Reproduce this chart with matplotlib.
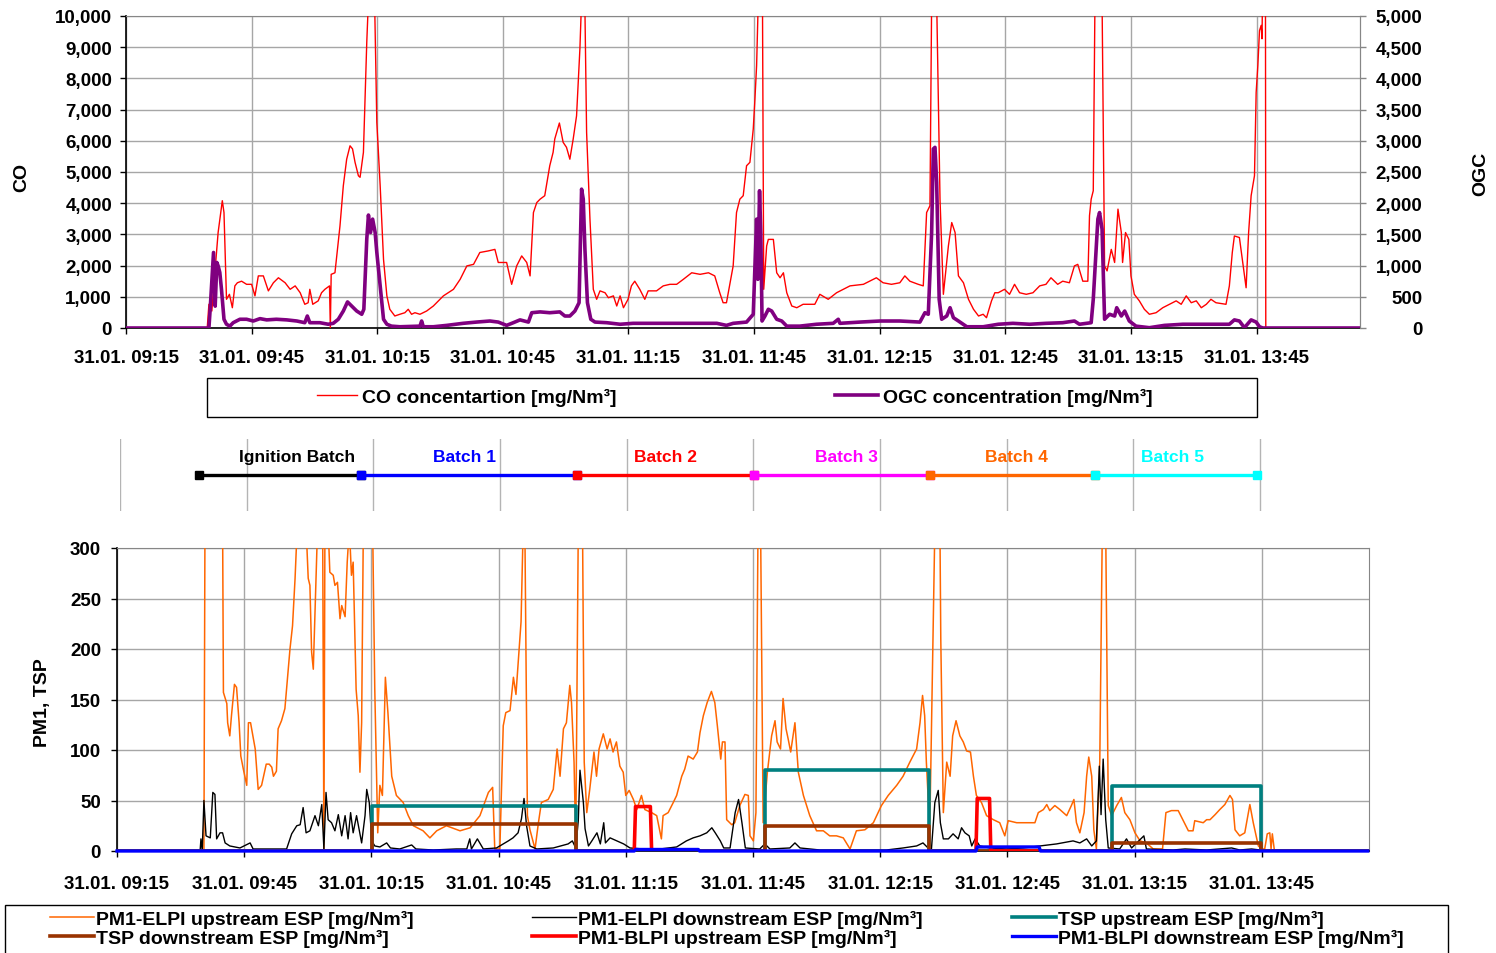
import numpy as np
import matplotlib
matplotlib.use("Agg")
import matplotlib.pyplot as plt
from matplotlib.lines import Line2D
from matplotlib.patches import Rectangle

plt.rcParams['font.family'] = ['Liberation Sans', 'DejaVu Sans']
plt.rcParams['font.weight'] = 'bold'

W, H = 1496, 954

# ---------------- data (time in minutes after 31.01. 09:15) ----------------
tick_minutes = [0, 30, 60, 90, 120, 150, 180, 210, 240, 270]
tick_labels = ['31.01. 09:15', '31.01. 09:45', '31.01. 10:15', '31.01. 10:45',
               '31.01. 11:15', '31.01. 11:45', '31.01. 12:15', '31.01. 12:45',
               '31.01. 13:15', '31.01. 13:45']

co_t = [0, 19.4, 19.8, 20.5, 20.9, 22.0, 23.0, 23.4, 24.0, 24.7,
        25.4, 26.0, 26.6, 27.6, 28.8, 30.0, 30.8, 31.6, 32.8, 34.0,
        35.2, 36.4, 38.0, 39.2, 40.4, 41.6, 42.7, 43.5, 43.9, 44.6,
        45.9, 46.7, 47.5, 48.6, 48.8, 49.0, 49.9, 51.1, 51.9, 52.7,
        53.5, 54.1, 54.7, 55.5, 55.9, 56.7, 57.1, 57.5, 57.9, 58.5,
        59.3, 59.9, 60.7, 61.5, 62.3, 63.0, 64.2, 65.4, 66.6, 67.4,
        68.2, 69.0, 70.2, 71.8, 73.4, 75.8, 78.2, 79.8, 81.4, 83.0,
        84.5, 86.5, 88.1, 88.9, 90.9, 92.1, 93.3, 94.5, 95.7, 96.5,
        97.3, 98.1, 98.9, 100.0, 101.2, 102.0, 102.4, 103.5, 104.4, 105.2,
        106.0, 106.8, 107.6, 108.4, 108.8, 109.2, 109.6, 110.0, 110.8, 111.6,
        112.4, 113.2, 114.4, 115.2, 116.4, 117.2, 118.0, 118.8, 119.9, 120.7,
        121.5, 122.7, 123.9, 124.7, 126.7, 128.3, 129.9, 131.5, 133.1, 135.1,
        137.1, 139.1, 140.6, 141.8, 142.6, 143.4, 144.2, 145.0, 145.8, 146.6,
        147.4, 148.2, 149.0, 149.8, 150.2, 150.6, 151.0, 151.5, 152.0, 152.3,
        153.0, 153.4, 154.6, 155.4, 156.2, 157.0, 157.8, 159.0, 160.2, 161.7,
        163.3, 164.5, 165.7, 167.7, 169.7, 172.9, 176.1, 179.2, 180.8, 182.8,
        184.8, 186.0, 187.2, 189.2, 190.4, 191.2, 192.0, 192.4, 192.8, 193.6,
        194.4, 195.2, 196.4, 197.2, 198.0, 198.8, 200.0, 201.2, 202.4, 203.6,
        204.7, 205.5, 206.7, 207.5, 208.3, 209.8, 211.0, 212.2, 213.4, 215.0,
        216.6, 218.2, 219.7, 220.9, 222.5, 223.7, 225.3, 226.5, 227.3, 228.5,
        229.7, 230.1, 230.5, 231.0, 231.4, 232.0, 233.1, 233.7, 234.3, 235.3,
        236.1, 236.9, 237.7, 238.0, 238.7, 239.5, 240.0, 240.8, 242.0, 243.2,
        244.4, 246.0, 247.6, 249.2, 250.8, 252.0, 253.2, 254.4, 255.6, 256.8,
        258.0, 259.1, 260.3, 262.7, 263.5, 264.2, 264.7, 265.9, 266.7, 267.5,
        268.1, 268.7, 269.5, 269.9, 270.3, 270.7, 271.1, 271.3, 271.7, 272.1,
        272.2, 295.0]
co_v = [0, 0, 760, 545, 1240, 3060, 4080, 3700, 920, 1080,
        650, 1350, 1450, 1500, 1400, 1400, 1030, 1670, 1670, 1190,
        1450, 1610, 1450, 1240, 1350, 1130, 760, 810, 1240, 760,
        870, 1130, 1240, 1350, 0, 1720, 1770, 3270, 4560, 5410,
        5840, 5740, 5310, 4880, 4830, 5630, 7340, 9160, 10500, 14000,
        11000, 6590, 4560, 2200, 1030, 600, 385, 440, 490, 600,
        440, 490, 440, 545, 705, 1030, 1240, 1560, 1990, 2040,
        2420, 2470, 2520, 2100, 2100, 1400, 1990, 2310, 2100, 1670,
        3700, 4020, 4130, 4240, 5200, 5630, 6060, 6570, 5950, 5790,
        5410, 6060, 6800, 8950, 10500, 13000, 10200, 6270, 3490, 1240,
        920, 1190, 1130, 970, 1030, 705, 1030, 650, 920, 1350,
        1500, 1240, 920, 1190, 1190, 1350, 1400, 1400, 1560, 1770,
        1720, 1770, 1670, 1130, 810, 810, 1400, 1990, 3700, 4130,
        4240, 5200, 5310, 6380, 7340, 8410, 10500, 14000, 10500, 1240,
        2630, 2840, 2840, 1770, 1610, 1770, 1130, 705, 650, 760,
        760, 760, 1080, 920, 1130, 1350, 1400, 1610, 1450, 1400,
        1450, 1670, 1500, 1400, 1350, 3700, 3920, 10500, 14000, 10500,
        4130, 1080, 2630, 3380, 3060, 1670, 1450, 920, 600, 385,
        440, 330, 870, 1130, 1130, 1240, 1080, 1400, 1130, 1080,
        1130, 1350, 1400, 1610, 1400, 1500, 1450, 1990, 2040, 1500,
        1500, 3600, 4130, 4400, 10500, 14000, 10500, 1990, 1830, 2520,
        2100, 3810, 3060, 2100, 3060, 2840, 1670, 1080, 870, 600,
        440, 490, 650, 760, 870, 760, 1030, 810, 870, 650,
        760, 920, 810, 760, 1350, 2420, 2950, 2900, 2100, 1290,
        3060, 4240, 4880, 7550, 8410, 9530, 9700, 9270, 14000, 14000,
        0, 0]

ogc_t = [0, 19.8, 20.1, 20.9, 21.3, 21.7, 22.0, 22.4, 22.8, 23.4,
         24.0, 24.8, 25.6, 27.2, 28.8, 30.4, 32.0, 33.6, 35.9, 38.4,
         40.8, 42.7, 43.3, 43.9, 46.3, 48.3, 49.5, 50.7, 51.9, 52.9,
         53.9, 55.1, 56.3, 56.8, 57.5, 57.9, 58.4, 58.9, 59.5, 59.9,
         60.7, 61.5, 62.3, 63.4, 65.4, 70.2, 70.6, 71.0, 73.4, 76.6,
         80.5, 83.7, 86.9, 88.9, 90.9, 92.5, 94.1, 96.1, 96.9, 98.9,
         101.2, 103.6, 104.8, 106.0, 107.2, 108.2, 108.8, 109.2, 109.6, 110.2,
         111.0, 112.0, 114.8, 118.0, 121.1, 125.1, 129.1, 133.1, 137.1, 141.1,
         143.4, 145.0, 148.2, 149.8, 150.6, 150.9, 151.3, 151.6, 151.9, 152.6,
         153.4, 154.2, 155.4, 156.6, 157.8, 160.9, 164.9, 168.9, 170.1, 170.5,
         175.3, 180.1, 184.8, 189.6, 190.8, 191.6, 192.4, 192.8, 193.2, 193.6,
         194.2, 194.8, 196.0, 196.8, 197.6, 198.8, 200.8, 204.7, 208.3, 211.8,
         215.8, 219.7, 223.7, 226.5, 227.7, 230.5, 231.0, 232.1, 232.5, 233.1,
         233.7, 234.9, 236.1, 236.6, 237.7, 238.5, 239.6, 241.2, 244.4, 248.0,
         252.4, 258.7, 263.5, 264.7, 265.9, 267.1, 268.7, 269.9, 270.7, 271.5,
         295.0]
ogc_v = [0, 0, 300, 1210, 350, 1050, 995, 890, 620, 140,
         60, 30, 85, 140, 140, 112, 150, 130, 140, 130,
         112, 85, 192, 85, 85, 60, 75, 140, 272, 418,
         352, 272, 220, 300, 1425, 1810, 1530, 1745, 1530, 1210,
         675, 140, 60, 30, 20, 30, 112, 20, 20, 42,
         75, 95, 112, 95, 42, 85, 130, 95, 245, 258,
         245, 258, 192, 192, 272, 405, 2225, 2065, 1260, 405,
         140, 95, 85, 60, 75, 75, 75, 75, 75, 75,
         42, 75, 95, 220, 1745, 780, 2200, 1530, 112, 192,
         300, 272, 140, 112, 30, 30, 60, 75, 140, 75,
         95, 112, 112, 95, 245, 220, 1530, 2870, 2895, 2335,
         460, 140, 192, 325, 165, 112, 20, 20, 60, 75,
         60, 75, 85, 112, 60, 85, 460, 1745, 1850, 1585,
         140, 220, 192, 325, 192, 272, 112, 30, 5, 42,
         60, 60, 60, 130, 112, 5, 130, 95, 20, 0,
         0]

elpi_up_t = [0, 20.5, 21.0, 23.0, 24.7, 25.1, 25.9, 26.1, 26.6, 27.0,
             27.7, 28.2, 28.8, 29.2, 29.8, 30.6, 31.0, 31.5, 32.6, 33.3,
             34.1, 35.2, 35.9, 36.5, 36.9, 37.6, 38.0, 38.8, 39.6, 40.2,
             40.8, 41.4, 42.0, 42.4, 43.5, 44.7, 45.1, 45.5, 45.9, 46.3,
             46.9, 47.3, 48.5, 48.8, 49.1, 50.2, 51.0, 51.4, 52.0, 52.6,
             53.0, 53.8, 54.3, 54.8, 55.3, 55.7, 56.4, 56.9, 57.3, 57.7,
             58.1, 59.2, 60.3, 60.8, 61.5, 62.0, 62.6, 63.3, 63.9, 64.8,
             65.9, 67.5, 68.7, 69.9, 72.2, 73.8, 75.4, 77.7, 80.9, 83.3,
             85.6, 87.6, 88.6, 89.1, 90.3, 91.1, 91.7, 92.7, 93.5, 94.1,
             94.9, 95.3, 95.8, 96.0, 96.2, 96.8, 97.4, 98.6, 99.4, 100.1,
             101.7, 102.9, 103.8, 104.5, 105.3, 106.0, 106.8, 107.2, 107.8, 108.2,
             108.8, 109.3, 109.8, 110.2, 110.8, 111.5, 112.5, 113.1, 113.7, 114.7,
             115.6, 116.3, 117.0, 117.8, 118.6, 119.4, 120.0, 120.8, 121.8, 122.6,
             123.7, 124.5, 126.1, 127.3, 128.4, 128.8, 130.0, 131.2, 132.0, 133.2,
             133.9, 134.7, 135.9, 136.9, 137.5, 138.3, 139.2, 140.2, 141.0, 141.6,
             142.4, 142.8, 143.4, 143.8, 145.0, 145.7, 146.9, 148.1, 148.9, 149.3,
             150.1, 150.7, 151.2, 151.5, 151.8, 152.4, 153.4, 154.4, 155.2, 155.7,
             156.5, 157.1, 157.8, 158.3, 158.9, 159.9, 160.7, 161.9, 163.4, 165.0,
             166.6, 168.1, 169.7, 171.3, 172.9, 174.4, 176.4, 178.4, 180.3, 181.9,
             183.9, 185.4, 187.0, 188.6, 189.4, 190.0, 190.5, 190.9, 191.7, 192.9,
             193.5, 194.1, 194.3, 194.9, 195.7, 196.5, 197.1, 197.9, 198.8, 199.6,
             200.4, 201.3, 202.0, 202.7, 203.9, 205.1, 206.7, 208.2, 209.4, 210.2,
             212.2, 214.5, 216.5, 217.3, 218.5, 219.3, 220.0, 221.2, 222.4, 224.0,
             225.1, 225.7, 226.3, 227.1, 228.1, 228.7, 229.2, 229.9, 230.4, 231.0,
             231.8, 232.4, 232.8, 233.2, 233.8, 234.6, 235.8, 236.9, 237.7, 238.9,
             240.1, 241.3, 242.8, 244.4, 246.6, 247.4, 248.7, 250.3, 251.5, 252.7,
             253.8, 254.2, 256.2, 257.0, 257.8, 259.0, 260.1, 261.3, 262.5, 263.1,
             263.7, 264.8, 266.0, 267.2, 268.0, 269.2, 270.0, 270.7, 271.3, 271.9,
             272.2, 272.5, 273.0, 295.0]
elpi_up_v = [0, 0, 650, 700, 500, 157, 146, 127, 114, 134,
             165, 162, 127, 94, 81, 65, 127, 127, 101, 61,
             65, 86, 86, 83, 74, 79, 121, 129, 141, 170,
             200, 223, 270, 310, 400, 310, 270, 263, 197, 180,
             266, 320, 330, 0, 400, 276, 273, 263, 266, 230,
             243, 232, 286, 320, 273, 286, 160, 134, 78, 127,
             320, 500, 320, 160, 18, 65, 55, 172, 137, 74,
             55, 48, 35, 25, 20, 13, 20, 25, 20, 23,
             35, 58, 63, 2, 2, 124, 137, 139, 172, 155,
             203, 227, 320, 450, 320, 35, 21, 2, 28, 48,
             51, 61, 101, 74, 121, 127, 164, 147, 88, 8,
             320, 500, 320, 88, 38, 61, 98, 74, 101, 116,
             101, 111, 98, 108, 84, 78, 55, 60, 51, 41,
             55, 41, 38, 35, 12, 35, 38, 48, 55, 74,
             81, 94, 91, 98, 117, 134, 147, 158, 147, 124,
             91, 108, 108, 31, 26, 28, 45, 56, 55, 15,
             10, 38, 320, 500, 320, 28, 78, 114, 129, 108,
             101, 151, 121, 111, 98, 127, 78, 55, 35, 20,
             20, 15, 15, 13, 2, 20, 21, 28, 45, 55,
             65, 74, 88, 101, 127, 154, 134, 88, 21, 320,
             500, 320, 210, 38, 88, 74, 114, 129, 114, 108,
             99, 98, 74, 55, 48, 35, 31, 28, 15, 30,
             28, 28, 28, 38, 41, 46, 40, 45, 41, 35,
             45, 51, 28, 18, 38, 74, 93, 74, 21, 2,
             88, 320, 500, 320, 45, 35, 45, 53, 38, 31,
             18, 10, 8, 2, 2, 38, 40, 40, 30, 20,
             20, 30, 28, 31, 31, 36, 41, 46, 55, 51,
             21, 15, 18, 46, 28, 5, 2, 2, 17, 18,
             2, 17, 0, 0]

elpi_down_t = [0, 19.6, 19.8, 20.1, 20.5, 21.0, 22.0, 22.6, 23.1, 23.5,
               24.3, 24.9, 25.5, 26.6, 29.0, 31.4, 32.1, 35.3, 40.0, 41.2,
               42.4, 43.2, 43.9, 44.6, 45.5, 46.7, 47.5, 48.3, 48.8, 49.3,
               49.8, 50.6, 51.4, 52.2, 53.0, 53.8, 54.5, 55.1, 55.7, 56.5,
               57.7, 58.5, 58.9, 59.5, 60.1, 60.8, 62.0, 63.6, 64.5, 66.7,
               69.5, 70.5, 74.6, 80.0, 82.5, 83.2, 83.6, 85.0, 86.4, 89.5,
               92.3, 93.4, 94.6, 95.4, 96.0, 96.6, 97.4, 99.0, 102.9, 106.4,
               107.4, 108.2, 108.8, 109.2, 110.0, 110.4, 111.2, 112.0, 113.2, 114.0,
               114.8, 115.2, 116.3, 117.9, 119.5, 121.0, 124.1, 128.1, 132.0, 134.3,
               135.9, 137.5, 139.1, 140.3, 141.1, 142.3, 143.1, 144.6, 145.8, 146.6,
               147.4, 148.2, 151.6, 152.8, 154.0, 158.7, 159.9, 161.1, 165.8, 173.6,
               181.5, 185.4, 188.6, 190.1, 191.3, 192.1, 192.9, 193.7, 194.2, 194.9,
               196.1, 197.2, 198.4, 199.2, 200.0, 201.0, 201.6, 202.4, 203.5, 205.9,
               209.8, 213.8, 217.7, 221.6, 225.5, 227.1, 228.7, 229.9, 231.0, 231.7,
               232.1, 232.6, 233.2, 233.8, 236.5, 238.1, 239.3, 242.2, 242.8, 249.1,
               251.9, 257.0, 262.9, 264.8, 267.6, 269.6, 270.3, 295.0]
elpi_down_v = [0, 0, 12, 0, 50, 15, 13, 58, 56, 12,
               18, 18, 8, 5, 3, 8, 2, 2, 2, 17,
               25, 26, 43, 18, 20, 35, 25, 46, 2, 58,
               31, 28, 20, 36, 15, 35, 12, 38, 18, 35,
               8, 35, 61, 48, 10, 5, 4, 8, 3, 2,
               6, 2, 1, 2, 2, 12, 2, 12, 2, 3,
               10, 13, 18, 32, 52, 25, 5, 2, 3, 7,
               10, 3, 30, 80, 48, 22, 5, 10, 18, 7,
               28, 8, 13, 10, 7, 3, 2, 2, 4, 10,
               13, 15, 18, 23, 18, 10, 3, 3, 38, 51,
               28, 3, 2, 7, 2, 3, 8, 3, 1, 1,
               1, 3, 5, 8, 3, 2, 48, 60, 28, 12,
               12, 17, 12, 23, 18, 15, 5, 12, 5, 3,
               2, 3, 5, 7, 10, 8, 12, 5, 10, 84,
               36, 91, 31, 3, 2, 12, 3, 15, 2, 1,
               2, 1, 3, 1, 2, 1, 0, 0]

tsp_start = [60.1, 152.8, 234.7]
tsp_end = [108.3, 191.5, 269.8]
tsp_up_vals = [45, 80, 64]
tsp_down_vals = [27, 25, 8]

blpi_up_t = [122.0, 122.3, 125.8, 126.1, 137.1, np.nan, 202.6, 202.9, 205.8, 206.1, 217.5]
blpi_up_v = [0, 44, 44, 0, 0, np.nan, 0, 52, 52, 0, 0]
blpi_down_t = [0, 122.0, 122.3, 137.1, 137.4, 202.6, 202.9, 217.5, 217.8, 295.0]
blpi_down_v = [0, 0, 1.5, 1.5, 0, 0, 4, 4, 0, 0]

batch_names = ['Ignition Batch', 'Batch 1', 'Batch 2', 'Batch 3', 'Batch 4', 'Batch 5']
batch_bounds = [18.7, 57.1, 108.2, 150.2, 191.8, 230.9, 269.3]
batch_label_t = [41.9, 81.5, 129.1, 172.0, 212.2, 249.2]
batch_colors = ['#000000', '#0000FF', '#FF0000', '#FF00FF', '#FF6600', '#00FFFF']


def rect_series(starts, ends, vals):
    t, v = [0.0], [0.0]
    for s, e, h in zip(starts, ends, vals):
        t += [s, s, e, e]
        v += [0, h, h, 0]
    t.append(295.0)
    v.append(0)
    return t, v


def fr(l, r, t, b):
    return [l / W, 1 - b / H, (r - l) / W, (b - t) / H]


GRID = '#a6a6a6'
SPINE_GRAY = '#868686'
TICK_FS = 13.5
LEG_FS = 14

fig = plt.figure(figsize=(W / 100, H / 100), dpi=100)

# ---------------- top panel ----------------
ax1 = fig.add_axes(fr(126, 1360, 17, 329))
ax1.set_xlim(0, 294.7)
ax1.set_ylim(0, 10000)
ax1.plot(co_t, co_v, color='#FF0000', lw=1.0, zorder=3)
ax1.set_yticks(np.arange(0, 10001, 1000))
ax1.set_yticklabels([f'{int(v):,}' for v in np.arange(0, 10001, 1000)])
ax1.set_xticks(tick_minutes)
ax1.set_xticklabels(tick_labels)
ax1.grid(True, color=GRID, lw=1.0)
ax1.set_axisbelow(True)
for s in ['top', 'right']:
    ax1.spines[s].set_color(SPINE_GRAY)
for s in ['left', 'bottom']:
    ax1.spines[s].set_color('black')
    ax1.spines[s].set_linewidth(1.2)
ax1.tick_params(axis='both', direction='out', length=4, width=1, labelsize=TICK_FS)
ax1.tick_params(axis='y', pad=6)
ax1.tick_params(axis='x', pad=11)

ax2 = ax1.twinx()
ax2.set_ylim(0, 5000)
ax2.plot(ogc_t, ogc_v, color='#800080', lw=2.6, zorder=4)
ax2.set_yticks(np.arange(0, 5001, 500))
ax2.set_yticklabels([f'{int(v):,}' for v in np.arange(0, 5001, 500)])
for s in ['left', 'bottom', 'top']:
    ax2.spines[s].set_visible(False)
ax2.spines['right'].set_color(SPINE_GRAY)
ax2.tick_params(axis='y', direction='out', length=4, width=1, color=SPINE_GRAY,
                labelsize=TICK_FS, pad=41)
for lab in ax2.get_yticklabels():
    lab.set_horizontalalignment('right')

fig.text(22 / W, 1 - 177 / H, 'CO', rotation=90, ha='center', va='center',
         fontsize=14, fontweight='bold')
fig.text(1481 / W, 1 - 174 / H, 'OGC', rotation=90, ha='center', va='center',
         fontsize=14, fontweight='bold')

# top legend
fig.patches.append(Rectangle((207 / W, 1 - 418 / H), (1257 - 207) / W, 39 / H,
                             transform=fig.transFigure, fill=False,
                             edgecolor='black', lw=1.0))
leg_kw = dict(frameon=False, fontsize=LEG_FS, borderpad=0, borderaxespad=0,
              handletextpad=0.26, loc='center left')
fig.legend([Line2D([], [], color='#FF0000', lw=1.0)], ['CO concentartion [mg/Nm³]'],
           bbox_to_anchor=(317 / W, 1 - 398 / H), handlelength=2.06, **leg_kw)
fig.legend([Line2D([], [], color='#800080', lw=2.6)], ['OGC concentration [mg/Nm³]'],
           bbox_to_anchor=(835 / W, 1 - 398 / H), handlelength=2.2, **leg_kw)

# ---------------- middle panel (batches) ----------------
axm = fig.add_axes(fr(120, 1365.6, 440, 512))
axm.set_xlim(0, 295)
axm.set_ylim(0, 1)
axm.axis('off')
for tm in tick_minutes:
    axm.axvline(tm, color='#b4b4b4', lw=1.0, zorder=1)
for i, (name, col) in enumerate(zip(batch_names, batch_colors)):
    x0, x1 = batch_bounds[i], batch_bounds[i + 1]
    axm.plot([x0, x1], [0.5, 0.5], color=col, lw=2.4, marker='s', markersize=6,
             zorder=3 + i, solid_capstyle='butt')
    axm.text(batch_label_t[i], 0.76, name, color=col, ha='center', va='center',
             fontsize=12.5, fontweight='bold')

# ---------------- bottom panel ----------------
ax3 = fig.add_axes(fr(117, 1369, 549, 852))
ax3.set_xlim(0, 295.3)
ax3.set_ylim(0, 300)
tsp_up_t, tsp_up_v = rect_series(tsp_start, tsp_end, tsp_up_vals)
tsp_dn_t, tsp_dn_v = rect_series(tsp_start, tsp_end, tsp_down_vals)
l_up, = ax3.plot(elpi_up_t, elpi_up_v, color='#FF6600', lw=1.1, zorder=3)
l_dn, = ax3.plot(elpi_down_t, elpi_down_v, color='#000000', lw=1.0, zorder=4)
l_tu, = ax3.plot(tsp_up_t, tsp_up_v, color='#008080', lw=2.6, zorder=5)
l_td, = ax3.plot(tsp_dn_t, tsp_dn_v, color='#993300', lw=2.6, zorder=6)
l_bu, = ax3.plot(blpi_up_t, blpi_up_v, color='#FF0000', lw=2.6, zorder=7)
l_bd, = ax3.plot(blpi_down_t, blpi_down_v, color='#0000FF', lw=2.4, zorder=8,
                 clip_on=False)
ax3.set_yticks(np.arange(0, 301, 50))
ax3.set_xticks(tick_minutes)
ax3.set_xticklabels(tick_labels)
ax3.grid(True, color=GRID, lw=1.0)
ax3.set_axisbelow(True)
for s in ['top', 'right']:
    ax3.spines[s].set_color(SPINE_GRAY)
for s in ['left', 'bottom']:
    ax3.spines[s].set_color('black')
    ax3.spines[s].set_linewidth(1.2)
ax3.tick_params(axis='both', direction='out', length=4.5, width=1, labelsize=TICK_FS)
ax3.tick_params(axis='y', pad=7)
ax3.tick_params(axis='x', pad=12.5)

fig.text(42 / W, 1 - 703 / H, 'PM1, TSP', rotation=90, ha='center', va='center',
         fontsize=14, fontweight='bold')

# bottom legend
fig.patches.append(Rectangle((5 / W, -0.05), (1448 - 5) / W, 0.05 + (954 - 906) / H,
                             transform=fig.transFigure, fill=False,
                             edgecolor='black', lw=1.0))
leg_kw2 = dict(frameon=False, fontsize=LEG_FS, borderpad=0, borderaxespad=0,
               handletextpad=0.1, handlelength=2.26, labelspacing=0.05,
               loc='center left')
cols = [([l_up, l_td], ['PM1-ELPI upstream ESP [mg/Nm³]', 'TSP downstream ESP [mg/Nm³]'], 50),
        ([l_dn, l_bu], ['PM1-ELPI downstream ESP [mg/Nm³]', 'PM1-BLPI upstream ESP [mg/Nm³]'], 532),
        ([l_tu, l_bd], ['TSP upstream ESP [mg/Nm³]', 'PM1-BLPI downstream ESP [mg/Nm³]'], 1012)]
for handles, labels, xpix in cols:
    fig.legend(handles, labels, bbox_to_anchor=(xpix / W, 1 - 929.5 / H), **leg_kw2)

fig.savefig('out.png', dpi=100)
